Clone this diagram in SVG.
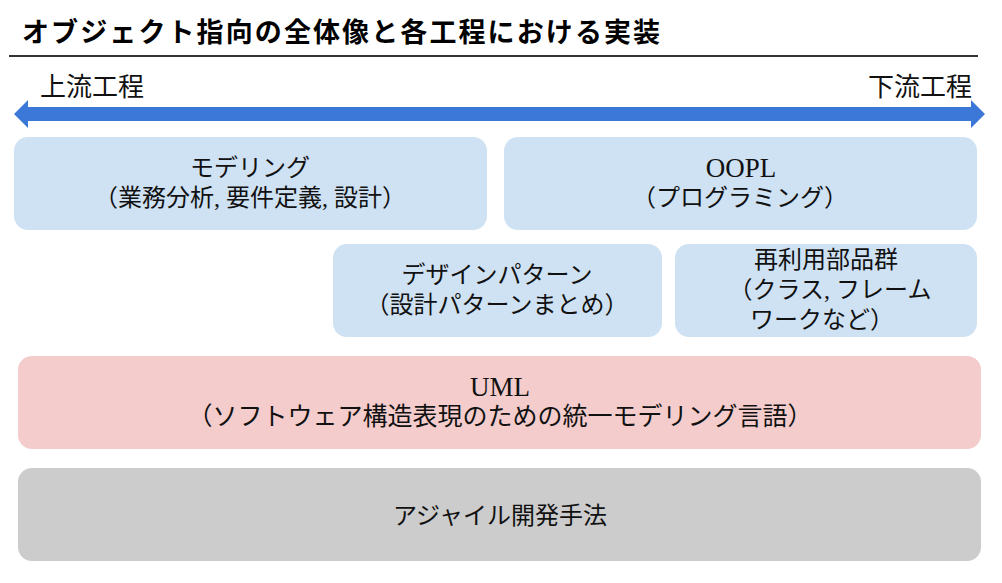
<svg xmlns="http://www.w3.org/2000/svg" width="1002" height="583" viewBox="0 0 1002 583">
<style>
.t{font-family:"Liberation Serif","Noto Sans CJK JP",serif;font-size:24px;fill:#111;text-anchor:middle}
.lat{font-size:27px}
.blue{fill:#cfe2f3}
.pink{fill:#f4cccc}
.grey{fill:#cccccc}
</style>
<rect width="1002" height="583" fill="#ffffff"/>
<g id="title">
<text x="22" y="42" font-family="'Noto Sans CJK JP','Noto Sans',sans-serif" font-weight="bold" font-size="27" letter-spacing="2.1" fill="#000">オブジェクト指向の全体像と各工程における実装</text>
<line x1="9" y1="56" x2="978" y2="56" stroke="#333" stroke-width="2"/>
</g>
<g id="connectors">
<polygon points="14,114 28,100 28,107 971,107 971,100 985,114 971,128 971,121 28,121 28,128" fill="#3c78d8"/>
</g>
<g id="label-upstream"><text class="t" x="40" y="96" style="font-size:26px;text-anchor:start">上流工程</text></g>
<g id="label-downstream"><text class="t" x="972" y="96" style="font-size:26px;text-anchor:end">下流工程</text></g>
<g id="modeling">
<rect class="blue" x="14" y="137" width="473" height="93" rx="14"/>
<text class="t" x="250" y="176">モデリング</text>
<text class="t" x="250" y="206">（業務分析, 要件定義, 設計）</text>
</g>
<g id="oopl">
<rect class="blue" x="504" y="137" width="473" height="93" rx="14"/>
<text class="t lat" x="741" y="177">OOPL</text>
<text class="t" x="740" y="206">（プログラミング）</text>
</g>
<g id="design-pattern">
<rect class="blue" x="333" y="244" width="329" height="93" rx="14"/>
<text class="t" x="497" y="283">デザインパターン</text>
<text class="t" x="497" y="313">（設計パターンまとめ）</text>
</g>
<g id="reuse">
<rect class="blue" x="675" y="244" width="302" height="93" rx="14"/>
<text class="t" x="826" y="268">再利用部品群</text>
<text class="t" x="830" y="298">（クラス, フレーム</text>
<text class="t" x="822" y="328">ワークなど）</text>
</g>
<g id="uml">
<rect class="pink" x="18" y="356" width="963" height="93" rx="14"/>
<text class="t lat" x="500" y="396">UML</text>
<text class="t" x="500" y="425" style="font-size:25px">（ソフトウェア構造表現のための統一モデリング言語）</text>
</g>
<g id="agile">
<rect class="grey" x="18" y="468" width="963" height="93" rx="14"/>
<text class="t" x="500" y="524">アジャイル開発手法</text>
</g>
</svg>
